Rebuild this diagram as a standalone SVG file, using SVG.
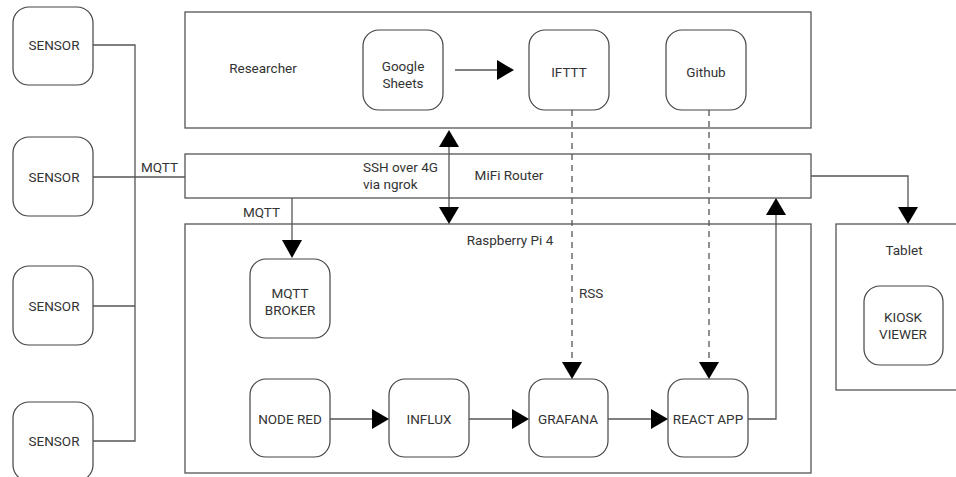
<svg xmlns="http://www.w3.org/2000/svg" width="956" height="477" viewBox="0 0 956 477">
<defs>
<style>
.box{fill:#fff;stroke:#555;stroke-width:1.3}
.node{fill:#fff;stroke:#444;stroke-width:1.2}
.t{font-family:Roboto,"Liberation Sans",sans-serif;font-size:13.5px;fill:#333;text-anchor:middle}
.tl{font-family:Roboto,"Liberation Sans",sans-serif;font-size:13.5px;fill:#333}
.ln{fill:none;stroke:#555;stroke-width:1.3}
.dash{fill:none;stroke:#555;stroke-width:1.3;stroke-dasharray:6,5}
.ah{fill:#000}
</style>
</defs>
<rect width="956" height="477" fill="#fff"/>
<g id="researcher"><rect class="box" x="185" y="12" width="626" height="116"/><text class="t" x="263" y="73">Researcher</text></g>
<g id="mifi"><rect class="box" x="185" y="154" width="626" height="44"/><text class="t" x="509" y="180">MiFi Router</text></g>
<g id="pi"><rect class="box" x="185" y="224" width="626" height="249"/><text class="t" x="510" y="245">Raspberry Pi 4</text></g>
<g id="tablet"><rect class="box" x="836" y="224" width="130" height="166"/><text class="t" x="904" y="255">Tablet</text></g>
<g id="sensor1"><rect class="node" x="13" y="7" width="80" height="78" rx="16"/><text class="t" x="54" y="50">SENSOR</text></g>
<g id="sensor2"><rect class="node" x="13" y="137" width="80" height="79" rx="16"/><text class="t" x="54" y="182">SENSOR</text></g>
<g id="sensor3"><rect class="node" x="13" y="266" width="80" height="79" rx="16"/><text class="t" x="54" y="311">SENSOR</text></g>
<g id="sensor4"><rect class="node" x="13" y="402" width="80" height="79" rx="16"/><text class="t" x="54" y="446">SENSOR</text></g>
<g id="sheets"><rect class="node" x="363" y="30" width="80" height="80" rx="16"/><text class="t" x="403" y="71">Google</text><text class="t" x="403" y="88">Sheets</text></g>
<g id="ifttt"><rect class="node" x="529" y="30" width="80" height="80" rx="16"/><text class="t" x="569" y="77">IFTTT</text></g>
<g id="github"><rect class="node" x="666" y="30" width="80" height="80" rx="16"/><text class="t" x="706" y="77">Github</text></g>
<g id="broker"><rect class="node" x="250" y="259" width="80" height="79" rx="16"/><text class="t" x="290" y="298">MQTT</text><text class="t" x="290" y="315">BROKER</text></g>
<g id="nodered"><rect class="node" x="250" y="379" width="80" height="78" rx="16"/><text class="t" x="290" y="424">NODE RED</text></g>
<g id="influx"><rect class="node" x="389" y="379" width="80" height="78" rx="16"/><text class="t" x="429" y="424">INFLUX</text></g>
<g id="grafana"><rect class="node" x="529" y="379" width="79" height="78" rx="16"/><text class="t" x="568" y="424">GRAFANA</text></g>
<g id="react"><rect class="node" x="668" y="379" width="80" height="78" rx="16"/><text class="t" x="708" y="424">REACT APP</text></g>
<g id="kiosk"><rect class="node" x="864" y="286" width="79" height="79" rx="16"/><text class="t" x="903" y="322">KIOSK</text><text class="t" x="903" y="339">VIEWER</text></g>
<g id="connectors">
<path class="ln" d="M93 45H135V441H93M93 306H135M93 177H185"/>
<text class="tl" x="141" y="172">MQTT</text>
<path class="ln" d="M292 198V241"/><path class="ah" d="M282 240H302L292 258Z"/>
<text class="tl" x="243" y="217">MQTT</text>
<path class="ln" d="M449 146V208"/><path class="ah" d="M439 147H459L449 130Z"/><path class="ah" d="M439 207H459L449 224Z"/>
<text class="tl" x="363" y="172">SSH over 4G</text><text class="tl" x="363" y="189">via ngrok</text>
<path class="ln" d="M455 70H498"/><path class="ah" d="M497 60V80L514 70Z"/>
<path class="dash" d="M572 110V362"/><path class="ah" d="M562 362H582L572 379Z"/>
<text class="tl" x="579" y="298">RSS</text>
<path class="dash" d="M709 110V362"/><path class="ah" d="M699 362H719L709 379Z"/>
<path class="ln" d="M330 419H372"/><path class="ah" d="M372 409V429L389 419Z"/>
<path class="ln" d="M469 419H512"/><path class="ah" d="M512 409V429L529 419Z"/>
<path class="ln" d="M608 419H651"/><path class="ah" d="M651 409V429L668 419Z"/>
<path class="ln" d="M748 419H776V215"/><path class="ah" d="M766 215H786L776 198Z"/>
<path class="ln" d="M811 176H908V208"/><path class="ah" d="M898 207H918L908 224Z"/>
</g>
</svg>
